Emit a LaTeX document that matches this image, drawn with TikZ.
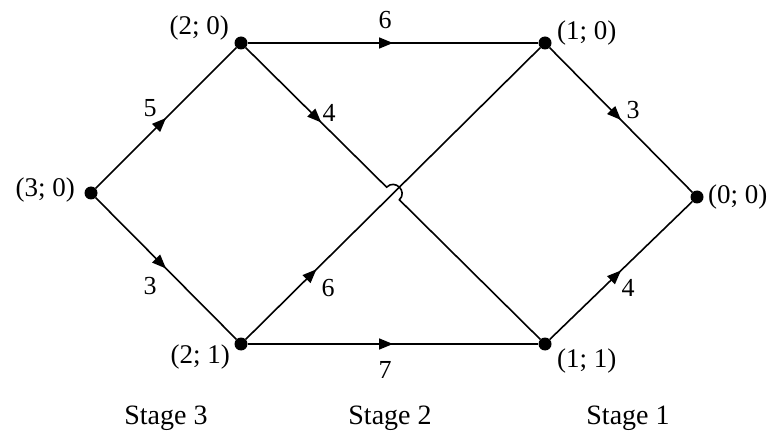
\documentclass[tikz,border=0pt]{standalone}
\usepackage{fontspec}
\setmainfont{Liberation Serif}
\usetikzlibrary{arrows.meta, decorations.markings, calc}
\tikzset{every node/.append style={inner sep=3pt}}

\begin{document}
\begin{tikzpicture}[x=1pt, y=1pt,
    vtx/.style={circle, fill=black, inner sep=0pt, minimum size=13pt},
    lab/.style={font=\fontsize{27}{30}\selectfont},
    wlab/.style={font=\fontsize{26}{29}\selectfont},
    stg/.style={font=\fontsize{28}{31}\selectfont},
    link/.style={line width=1.6pt},
    midarr/.style={postaction={decorate}, decoration={markings,
        mark=at position #1 with {\arrow{Triangle[length=14pt, width=11pt]}}}}
]
\useasboundingbox (0,0) rectangle (777,437);
% ===== STATES =====
\node[vtx] (s30) at (91,244)  {};
\node[vtx] (s20) at (241,394) {};
\node[vtx] (s21) at (241,93)  {};
\node[vtx] (s10) at (545,394) {};
\node[vtx] (s11) at (545,93)  {};
\node[vtx] (s00) at (697,240) {};
\node[lab, anchor=east] (l30) at (78,247)  {(3; 0)};
\node[lab, anchor=east] (l20) at (232,409) {(2; 0)};
\node[lab, anchor=east] (l21) at (233,80)  {(2; 1)};
\node[lab, anchor=west] (l10) at (554,404) {(1; 0)};
\node[lab, anchor=west] (l11) at (554,76)  {(1; 1)};
\node[lab, anchor=west] (l00) at (705,240) {(0; 0)};
% ===== TRANSITIONS =====
\coordinate (X) at (intersection of s20--s11 and s21--s10);
\coordinate (h1) at ($(X)!9pt!(s20)$);
\coordinate (h2) at ($(X)!9pt!(s11)$);
\draw[link, midarr=0.5] (s30) -- (s20);
\draw[link, midarr=0.5] (s30) -- (s21);
\draw[link, midarr=0.5] (s20) -- (s10);
\draw[link, midarr=0.5] (s21) -- (s11);
\draw[link, midarr=0.24] (s21) -- (s10);
\draw[link, midarr=0.25] (s20) -- (h1) to[out=45, in=45, looseness=1.7] (h2) -- (s11); % hop over
\draw[link, midarr=0.5] (s10) -- (s00);
\draw[link, midarr=0.5] (s11) -- (s00);
% ===== COSTS =====
\node[wlab] (w1) at (150,329) {5};
\node[wlab] (w2) at (150,151) {3};
\node[wlab] (w3) at (385,417) {6};
\node[wlab] (w4) at (329,324) {4};
\node[wlab] (w5) at (633,327) {3};
\node[wlab] (w6) at (328,149) {6};
\node[wlab] (w7) at (385,67)  {7};
\node[wlab] (w8) at (628,149) {4};
% ===== STAGES =====
\node[stg] (st3) at (166,19) {Stage 3};
\node[stg] (st2) at (390,19) {Stage 2};
\node[stg] (st1) at (628,19) {Stage 1};
\end{tikzpicture}
\end{document}
